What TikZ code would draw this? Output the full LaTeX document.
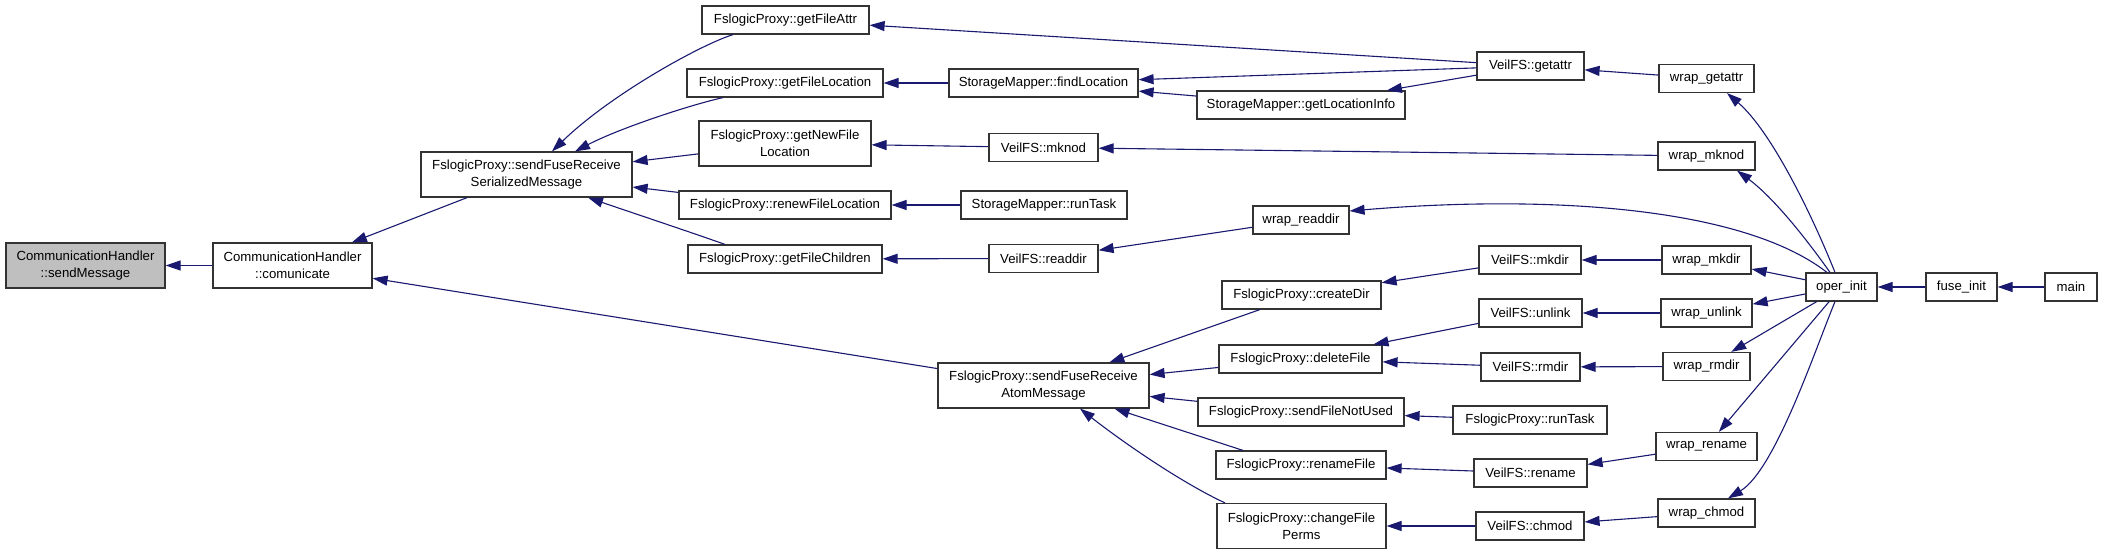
\documentclass[tikz,border=0pt]{standalone}
\usepackage{fontspec}
\setmainfont{Liberation Sans}
\usetikzlibrary{arrows.meta,calc}
\definecolor{edgecol}{HTML}{191970}
\definecolor{grayfill}{HTML}{BFBFBF}
\newcommand{\dfs}{\fontsize{6.6pt}{8.5pt}\selectfont}
\tikzset{
  bx/.style={draw=black!80, line width=0.6pt, fill=white, inner sep=0pt, align=center, font=\dfs, minimum height=14pt},
  bxtwo/.style={bx, minimum height=22.5pt},
  wd/.style={minimum width=#1*0.5pt},
  edge/.style={draw=edgecol, line width=0.55pt, -{Triangle[length=7.5pt,width=5pt]}},
}
\begin{document}
\begin{tikzpicture}[x=0.5pt,y=-0.5pt]
\useasboundingbox (0,0) rectangle (2101,555);
% nodes
\node[bxtwo, wd=159, fill=grayfill] (sm) at (85.5,265.5) {CommunicationHandler\\::sendMessage};
\node[bxtwo, wd=159] (com) at (292.5,265.5) {CommunicationHandler\\::comunicate};
\node[bxtwo, wd=211] (ser) at (526.5,174.5) {FslogicProxy::sendFuseReceive\\SerializedMessage};
\node[bxtwo, wd=211] (atom) at (1043.5,385.5) {FslogicProxy::sendFuseReceive\\AtomMessage};
\node[bx, wd=167] (gfa) at (785.5,20) {FslogicProxy::getFileAttr};
\node[bx, wd=196] (gfl) at (785,83) {FslogicProxy::getFileLocation};
\node[bxtwo, wd=172] (gnfl) at (785,143.5) {FslogicProxy::getNewFile\\Location};
\node[bx, wd=212] (rfl) at (785,205) {FslogicProxy::renewFileLocation};
\node[bx, wd=194] (gfc) at (785,259) {FslogicProxy::getFileChildren};
\node[bx, wd=189] (fl) at (1043.5,83) {StorageMapper::findLocation};
\node[bx, wd=208] (gli) at (1301,105) {StorageMapper::getLocationInfo};
\node[bx, wd=109] (mknod) at (1043.5,147.5) {VeilFS::mknod};
\node[bx, wd=166] (smrt) at (1044,205) {StorageMapper::runTask};
\node[bx, wd=109] (readdir) at (1043.5,258.5) {VeilFS::readdir};
\node[bx, wd=96] (wreaddir) at (1301,220) {wrap\_readdir};
\node[bx, wd=107] (getattr) at (1530.5,66) {VeilFS::getattr};
\node[bx, wd=95] (wgetattr) at (1706.5,78.5) {wrap\_getattr};
\node[bx, wd=97] (wmknod) at (1706.5,156) {wrap\_mknod};
\node[bx, wd=102] (mkdir) at (1530,260) {VeilFS::mkdir};
\node[bx, wd=89] (wmkdir) at (1706.5,260) {wrap\_mkdir};
\node[bx, wd=71] (oper) at (1841.5,287) {oper\_init};
\node[bx, wd=71] (fuse) at (1961.5,287) {fuse\_init};
\node[bx, wd=52] (mainf) at (2071,287) {main};
\node[bx, wd=159] (cdir) at (1301.5,295) {FslogicProxy::createDir};
\node[bx, wd=163] (dfile) at (1300.5,359) {FslogicProxy::deleteFile};
\node[bx, wd=206] (sfnu) at (1301,412) {FslogicProxy::sendFileNotUsed};
\node[bx, wd=170] (rfile) at (1301,465) {FslogicProxy::renameFile};
\node[bxtwo, wd=169] (cfp) at (1301.5,526) {FslogicProxy::changeFile\\Perms};
\node[bx, wd=103] (unlink) at (1530.5,313) {VeilFS::unlink};
\node[bx, wd=99] (rmdir) at (1530.5,367) {VeilFS::rmdir};
\node[bx, wd=154] (fprt) at (1530,420) {FslogicProxy::runTask};
\node[bx, wd=113] (rename) at (1530.5,473) {VeilFS::rename};
\node[bx, wd=108] (chmod) at (1530,526) {VeilFS::chmod};
\node[bx, wd=91] (wunlink) at (1706.5,313) {wrap\_unlink};
\node[bx, wd=87] (wrmdir) at (1706.5,366.5) {wrap\_rmdir};
\node[bx, wd=101] (wrename) at (1706.5,446.5) {wrap\_rename};
\node[bx, wd=97] (wchmod) at (1706.5,513) {wrap\_chmod};
% edges
\draw[edge] (com) -- (sm);
\draw[edge] (ser) -- (com);
\draw[edge] (atom) -- (com);
\draw[edge] ($(gfa.south)+(-52.5,0)$) .. controls (700,45) and (610,95) .. ($(ser.north)+(25.5,0)$);
\draw[edge] ($(gfl.south)+(-62,0)$) .. controls (690,105) and (620,128) .. ($(ser.north)+(48.5,0)$);
\draw[edge] (gnfl) -- (ser);
\draw[edge] (rfl) -- (ser);
\draw[edge] ($(gfc.north)+(-60,0)$) .. controls (690,232) and (630,212) .. ($(ser.south)+(61.5,0)$);
\draw[edge] (getattr) -- (gfa);
\draw[edge] (fl) -- (gfl);
\draw[edge] (getattr) -- (fl);
\draw[edge] (gli) -- (fl);
\draw[edge] (getattr) -- (gli);
\draw[edge] (mknod) -- (gnfl);
\draw[edge] (wmknod) -- (mknod);
\draw[edge] (smrt) -- (rfl);
\draw[edge] (readdir) -- (gfc);
\draw[edge] (wreaddir) -- (readdir);
\draw[edge] ($(oper.north)+(-14.5,0)$) .. controls (1740,205) and (1540,195) .. ($(wreaddir.east)+(0,-9)$);
\draw[edge] (wgetattr) -- (getattr);
\draw[edge] ($(oper.north)+(-6.5,0)$) .. controls (1810,210) and (1770,130) .. ($(wgetattr.south)+(20.5,0)$);
\draw[edge] ($(oper.north)+(-11.5,0)$) .. controls (1800,230) and (1770,195) .. ($(wmknod.south)+(30.5,0)$);
\draw[edge] (cdir) -- (atom);
\draw[edge] (dfile) -- (atom);
\draw[edge] (sfnu) -- (atom);
\draw[edge] ($(rfile.north)+(-58,0)$) -- (atom);
\draw[edge] ($(cfp.north)+(-76.5,0)$) .. controls (1180,482) and (1120,440) .. ($(atom.south)+(36.5,0)$);
\draw[edge] (mkdir) -- (cdir);
\draw[edge] (wmkdir) -- (mkdir);
\draw[edge] (oper) -- (wmkdir);
\draw[edge] (unlink) -- (dfile);
\draw[edge] (rmdir) -- (dfile);
\draw[edge] (wunlink) -- (unlink);
\draw[edge] (wrmdir) -- (rmdir);
\draw[edge] (oper) -- (wunlink);
\draw[edge] (oper) -- (wrmdir);
\draw[edge] (fprt) -- (sfnu);
\draw[edge] (rename) -- (rfile);
\draw[edge] (wrename) -- (rename);
\draw[edge] (oper) -- (wrename);
\draw[edge] (chmod) -- (cfp);
\draw[edge] (wchmod) -- (chmod);
\draw[edge] ($(oper.south)+(-6.5,0)$) .. controls (1815,350) and (1775,470) .. ($(wchmod.north)+(21.5,0)$);
\draw[edge] (fuse) -- (oper);
\draw[edge] (mainf) -- (fuse);
\end{tikzpicture}
\end{document}
